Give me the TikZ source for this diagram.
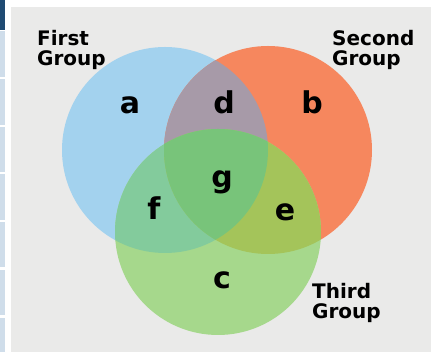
\documentclass[tikz,border=0pt]{standalone}
\usepackage{fontspec}
\setmainfont{DejaVu Sans}
\begin{document}
\begin{tikzpicture}[x=1pt,y=1pt,
  grouplabel/.style={font=\fontsize{20}{20}\selectfont\bfseries, align=left, anchor=north west, inner sep=0pt, text=black},
  regionlabel/.style={font=\fontsize{30}{30}\selectfont\bfseries, anchor=base, inner sep=0pt, text=black}]
\definecolor{bgpanel}{HTML}{EAEAE9}
\definecolor{navy}{HTML}{1F4A72}
\definecolor{cellblue}{HTML}{CFDDEA}
\definecolor{regA}{HTML}{A3D2EE}
\definecolor{regB}{HTML}{F6875E}
\definecolor{regC}{HTML}{A6D88C}
\definecolor{regD}{HTML}{A79AA8}
\definecolor{regE}{HTML}{A4C45A}
\definecolor{regF}{HTML}{83CB9C}
\definecolor{regG}{HTML}{78C47A}

% page and panel
\fill[white] (0,0) rectangle (434,352);
\useasboundingbox (0,0) rectangle (434,352);
\fill[navy] (0,322) rectangle (5,352);
\foreach \top/\bot in {321/275, 273/227, 225/180, 178/132, 130/85, 82/37, 34/0}
  \fill[cellblue] (0,\bot) rectangle (5,\top);
\fill[bgpanel] (11,0) rectangle (431,345);

% circle centres
\coordinate (first) at (165,202);
\coordinate (second) at (268,202);
\coordinate (third) at (218,120);
\def\rA{103}\def\rB{104}\def\rC{103}

% single regions
\fill[regA] (first) circle (\rA);
\fill[regB] (second) circle (\rB);
\fill[regC] (third) circle (\rC);
% pairwise overlaps
\begin{scope}\clip (first) circle (\rA); \fill[regD] (second) circle (\rB); \end{scope}
\begin{scope}\clip (first) circle (\rA); \fill[regF] (third) circle (\rC); \end{scope}
\begin{scope}\clip (second) circle (\rB); \fill[regE] (third) circle (\rC); \end{scope}
% centre
\begin{scope}\clip (first) circle (\rA); \clip (second) circle (\rB); \fill[regG] (third) circle (\rC); \end{scope}

% group names
\node[grouplabel] (nFirst) at (37,322) {First\\Group};
\node[grouplabel] (nSecond) at (332,322) {Second\\Group};
\node[grouplabel] (nThird) at (312,69) {Third\\Group};

% region letters
\node[regionlabel] (la) at (130,238) {a};
\node[regionlabel] (ld) at (224,238) {d};
\node[regionlabel] (lb) at (312,238) {b};
\node[regionlabel] (lg) at (222,164) {g};
\node[regionlabel] (lf) at (154,132) {f};
\node[regionlabel] (le) at (285,131) {e};
\node[regionlabel] (lc) at (222,63) {c};
\end{tikzpicture}
\end{document}
